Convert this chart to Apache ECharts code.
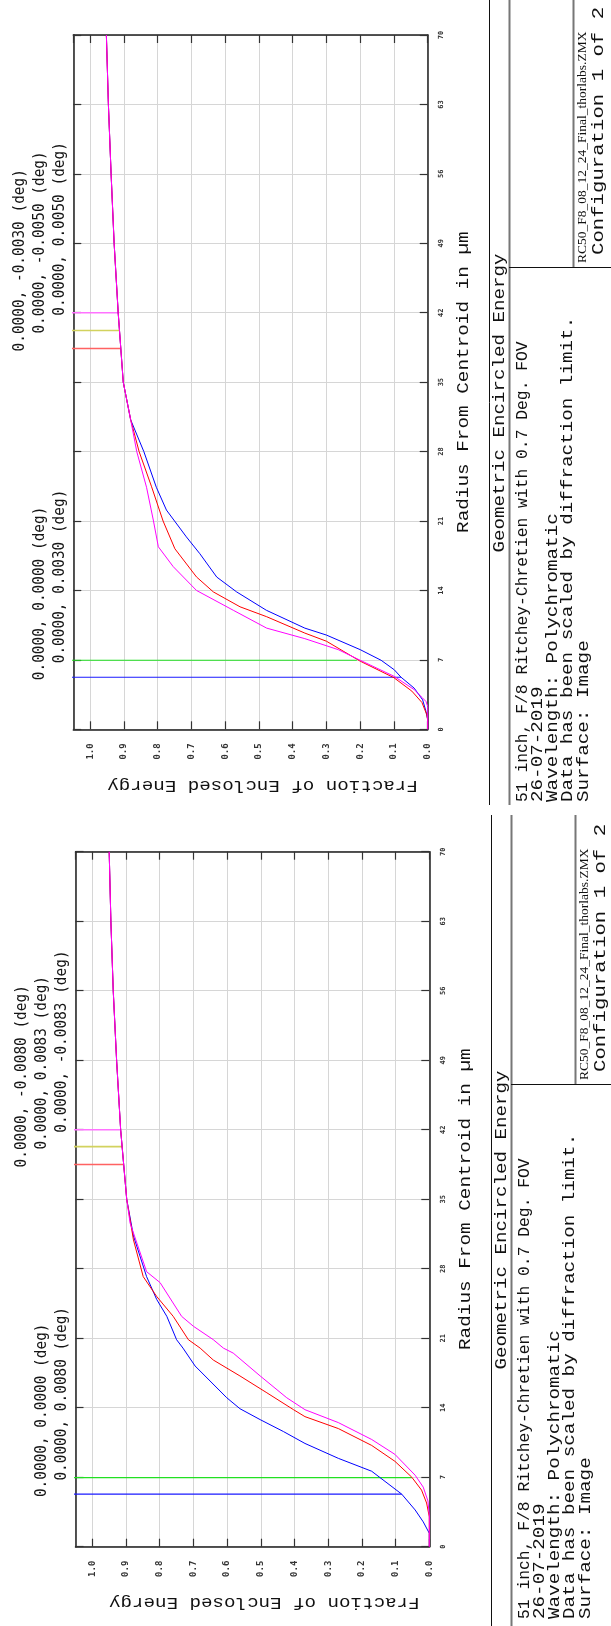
<!DOCTYPE html>
<html><head><meta charset="utf-8">
<script src="https://cdn.jsdelivr.net/npm/echarts@6/dist/echarts.min.js"></script>
<style>html,body{margin:0;padding:0;background:#fff}#c{width:611px;height:1626px}</style>
</head><body><div id="c"></div>
<script>
// ---------- data (radius in µm, fraction of enclosed energy) ----------
const RADIUS_MAX = 70, RADIUS_STEP = 7;
const FRACTION_MAX = 1.05, FRACTION_STEP = 0.1;

const topBlue = [[0,0],[0.96,0],[1.8,0.005],[2.97,0.015],[4.15,0.04],[5.25,0.079],[6.0,0.099],[6.96,0.138],[8.03,0.2],[9.5,0.3],[10.2,0.364],[12.0,0.478],[13.85,0.566],[15.35,0.625],[17.7,0.675],[19.4,0.715],[22.1,0.774],[24.4,0.804],[28,0.841],[31.2,0.88],[35,0.902],[42,0.917],[49,0.929],[56,0.938],[63,0.946],[70,0.952]];
const topRed = [[0,0],[0.96,0],[1.5,0.003],[2.7,0.017],[3.85,0.047],[5.2,0.1],[6.87,0.2],[8.88,0.3],[9.7,0.364],[11.35,0.477],[12.35,0.556],[13.85,0.635],[15.36,0.685],[18.2,0.749],[21,0.784],[24.45,0.818],[28,0.855],[31.2,0.88],[35,0.902],[42,0.917],[49,0.929],[56,0.938],[63,0.946],[70,0.952]];
const topMagenta = [[0,0],[2.3,0],[2.8,0.005],[3.15,0.015],[4.0,0.04],[5.35,0.1],[6.96,0.2],[8.03,0.265],[9.14,0.364],[10.2,0.477],[12.0,0.576],[14.0,0.685],[16.4,0.754],[18.4,0.798],[21.1,0.813],[24.4,0.833],[28,0.862],[31.2,0.88],[35,0.902],[42,0.917],[49,0.929],[56,0.938],[63,0.946],[70,0.952]];

const bottomBlue = [[0,0],[1.35,0],[2.5,0.018],[3.7,0.042],[5.3,0.082],[7.6,0.171],[8.9,0.27],[10.4,0.369],[11.6,0.433],[12.8,0.502],[13.9,0.562],[15.0,0.601],[18.2,0.695],[20.0,0.731],[20.85,0.75],[23.2,0.779],[24.9,0.809],[27.2,0.839],[31.3,0.878],[35,0.898],[42,0.916],[49,0.928],[56,0.938],[63,0.945],[70,0.950]];
const bottomRed = [[0,0],[3.0,0],[4.4,0.008],[5.7,0.023],[7.0,0.052],[8.6,0.102],[10.2,0.171],[11.9,0.27],[13.1,0.369],[13.8,0.403],[15.5,0.482],[17.2,0.562],[18.8,0.641],[20.0,0.680],[20.85,0.715],[23.2,0.760],[25.2,0.809],[27.2,0.849],[30.9,0.878],[35,0.898],[42,0.916],[49,0.928],[56,0.938],[63,0.945],[70,0.950]];
const bottomMagenta = [[0,0],[3.2,0],[4.6,0.004],[6.0,0.018],[7.2,0.042],[9.3,0.102],[10.8,0.171],[12.5,0.27],[13.8,0.369],[15.0,0.423],[17.2,0.502],[19.5,0.582],[20.0,0.611],[20.85,0.641],[22.2,0.700],[23.2,0.735],[26.6,0.799],[27.7,0.839],[32.6,0.888],[35,0.898],[42,0.916],[49,0.928],[56,0.938],[63,0.945],[70,0.950]];

const topFieldLabels = ['0.0000, 0.0000 (deg)','0.0000, 0.0030 (deg)','0.0000, -0.0030 (deg)','0.0000, -0.0050 (deg)','0.0000, 0.0050 (deg)'];
const bottomFieldLabels = ['0.0000, 0.0000 (deg)','0.0000, 0.0080 (deg)','0.0000, -0.0080 (deg)','0.0000, 0.0083 (deg)','0.0000, -0.0083 (deg)'];
const topLeaderRadius = [5.25, 6.96, 38.4, 40.2, 42.0];
const topLeaderEnd = [0.079, 0.21, 0.910, 0.912, 0.914];
const bottomLeaderRadius = [5.3, 6.96, 38.5, 40.3, 42.0];
const bottomLeaderEnd = [0.082, 0.052, 0.908, 0.912, 0.915];

const titleText = 'Geometric Encircled Energy';
const xNameText = 'Radius From Centroid in µm';
const yNameText = 'Fraction of Enclosed Energy';
const descLines = ['51 inch, F/8 Ritchey-Chretien with 0.7 Deg. FOV','26-07-2019','Wavelength: Polychromatic','Data has been scaled by diffraction limit.','Surface: Image'];
const fileNameText = 'RC50_F8_08_12_24_Final_thorlabs.ZMX';
const configText = 'Configuration 1 of 2';

// ---------- styles / layout ----------
const MONO = '"Liberation Mono", "DejaVu Sans Mono", monospace';
const LABEL_FONT = '"DejaVu Sans Mono", monospace';
const TICK_FONT = '"DejaVu Sans Mono", monospace';
const curveColors = {blue:'#0000ff', red:'#ff0000', magenta:'#ff00ff'};
const leaderColors = ['#1a1aff','#22e022','#ff6262','#d2d25e','#ff72ff'];
const leaderWidths = [1.2,1.2,1.6,1.6,1.6];
const LEADER_START = [1.18, 1.12, 1.06];
const leaderSlot = [1,2,0,1,2];
const MONO_ADV = 0.6;

const panels = [
  {grid:{left:73.3, top:35, width:354.4, height:694.3}, blue:topBlue, red:topRed, magenta:topMagenta,
   labels:topFieldLabels, leaderR:topLeaderRadius, leaderEnd:topLeaderEnd, dx:0, dy:0, boxTop:0, boxBottom:805},
  {grid:{left:75.5, top:851.7, width:353.8, height:695}, blue:bottomBlue, red:bottomRed, magenta:bottomMagenta,
   labels:bottomFieldLabels, leaderR:bottomLeaderRadius, leaderEnd:bottomLeaderEnd, dx:2, dy:817, boxTop:815, boxBottom:1626}
];

const chart = echarts.init(document.getElementById('c'), null, {renderer:'canvas'});

const frameLine = {show:true, onZero:false, lineStyle:{color:'#1e1e1e', width:1.5}};
const frameTick = {show:true, inside:true, length:8, lineStyle:{color:'#333', width:1.2}};
const gridLine = {show:true, lineStyle:{color:'#d6d6d6', width:1, type:'solid'}};

const grids = [], xAxes = [], yAxes = [], series = [];
panels.forEach((p, i) => {
  grids.push(Object.assign({containLabel:false, outerBoundsMode:'none', show:false}, p.grid));
  xAxes.push({gridIndex:i, type:'value', position:'bottom', inverse:true, min:0, max:FRACTION_MAX, interval:FRACTION_STEP,
    axisLine:frameLine, axisTick:frameTick, splitLine:gridLine,
    axisLabel:{show:true, rotate:90, margin:14, fontSize:9, fontFamily:TICK_FONT, fontWeight:'bold', color:'#333',
      showMaxLabel:false, formatter:(v)=> v > 1.0001 ? '' : v.toFixed(1)}});
  xAxes.push({gridIndex:i, type:'value', position:'top', inverse:true, min:0, max:FRACTION_MAX, interval:FRACTION_STEP,
    axisLine:frameLine, axisTick:frameTick, splitLine:{show:false}, axisLabel:{show:false}});
  yAxes.push({gridIndex:i, type:'value', position:'right', min:0, max:RADIUS_MAX, interval:RADIUS_STEP,
    axisLine:frameLine, axisTick:frameTick, splitLine:gridLine,
    axisLabel:{show:true, rotate:90, margin:10, fontSize:7, fontFamily:TICK_FONT, fontWeight:'bold', color:'#333'}});
  yAxes.push({gridIndex:i, type:'value', position:'left', min:0, max:RADIUS_MAX, interval:RADIUS_STEP,
    axisLine:frameLine, axisTick:frameTick, splitLine:{show:false}, axisLabel:{show:false}});

  p.labels.forEach((lab, k) => {
    series.push({type:'line', xAxisIndex:2*i, yAxisIndex:2*i, clip:false, symbol:'none', silent:true, animation:false, z:2,
      data:[[LEADER_START[leaderSlot[k]], p.leaderR[k]], [p.leaderEnd[k], p.leaderR[k]]],
      lineStyle:{color:leaderColors[k], width:leaderWidths[k]}});
  });
  [['blue',p.blue],['red',p.red],['magenta',p.magenta]].forEach(([c, d]) => {
    series.push({type:'line', xAxisIndex:2*i, yAxisIndex:2*i, symbol:'none', silent:true, animation:false, z:3,
      data:d.map(q => [q[1], q[0]]), lineStyle:{color:curveColors[c], width:1}});
  });
});

chart.setOption({backgroundColor:'#ffffff', animation:false, grid:grids, xAxis:xAxes, yAxis:yAxes, series:series});

function rtext(x, y, text, o) {
  const sx = o.adv ? o.adv / (MONO_ADV * o.size) : 1;
  return {type:'text', x:x, y:y, rotation:(o.rot === undefined ? Math.PI/2 : o.rot), scaleX:sx, silent:true, z:100,
    style:{text:text, x:0, y:0, fill:o.color || '#111', fontSize:o.size, fontFamily:o.family || MONO,
      textAlign:o.align || 'left', align:o.align || 'left', textVerticalAlign:'middle', verticalAlign:'middle'}};
}
function ln(x1, y1, x2, y2, color, w) {
  return {type:'line', silent:true, z:90, shape:{x1:x1, y1:y1, x2:x2, y2:y2}, style:{stroke:color, lineWidth:w}};
}

const graphics = [];
panels.forEach((p, i) => {
  const dx = p.dx, dy = p.dy;
  p.labels.forEach((lab, k) => {
    const pt = chart.convertToPixel({xAxisIndex:2*i, yAxisIndex:2*i}, [LEADER_START[leaderSlot[k]], p.leaderR[k]]);
    graphics.push(rtext(pt[0] - 10, pt[1] + 3, lab, {size:16, adv:8.65, family:LABEL_FONT, color:'#151515'}));
  });
  const mid = chart.convertToPixel({xAxisIndex:2*i, yAxisIndex:2*i}, [0.5, RADIUS_MAX/2]);
  graphics.push(rtext(464 + dx, mid[1], xNameText, {size:16.5, adv:11.6, align:'center'}));
  graphics.push(rtext(mid[0] + 3.5, 785 + dy, yNameText, {size:16.5, adv:11.5, align:'center', rot:Math.PI}));
  graphics.push(ln(489.5 + dx, p.boxTop, 489.5 + dx, p.boxBottom, '#111', 1));
  graphics.push(ln(509.5 + dx, p.boxTop, 509.5 + dx, p.boxBottom, '#777', 2));
  graphics.push(ln(573.5 + dx, p.boxTop, 573.5 + dx, 267.5 + dy, '#777', 2));
  graphics.push(ln(509 + dx, 267.5 + dy, 611, 267.5 + dy, '#111', 1));
  graphics.push(rtext(500 + dx, 403 + dy, titleText, {size:16.5, adv:11.5, align:'center'}));
  const lineX = [522.5, 537.5, 552.5, 568, 583.5];
  descLines.forEach((t, k) => {
    graphics.push(rtext(lineX[k] + dx, 802 + dy, t, {size:16, adv:(k === 0 ? 9.8 : 11.55)}));
  });
  graphics.push(rtext(582.5 + dx, 263 + dy, fileNameText, {size:13.5, family:'"Liberation Serif", serif'}));
  graphics.push(rtext(598.5 + dx, 255 + dy, configText, {size:17, adv:12.4}));
});
chart.setOption({graphic:graphics});
</script>
</body></html>
